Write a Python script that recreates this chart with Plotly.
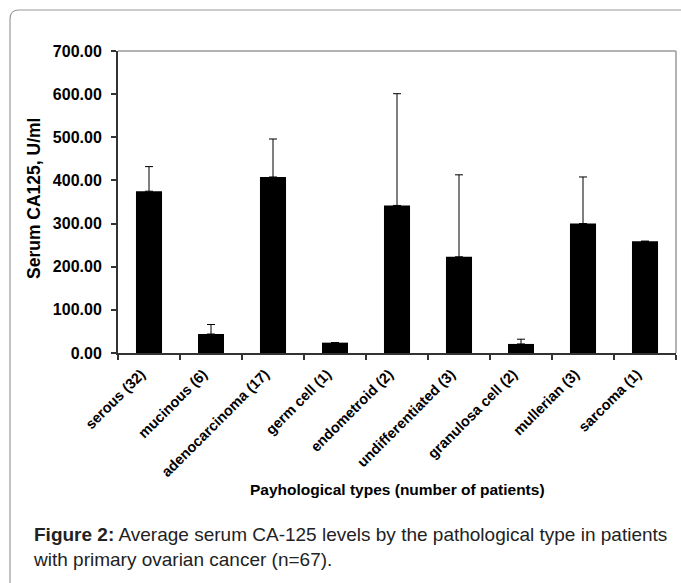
import plotly.graph_objects as go

categories = ["serous (32)", "mucinous (6)", "adenocarcinoma (17)", "germ cell (1)",
              "endometroid (2)", "undifferentiated (3)", "granulosa cell (2)",
              "mullerian (3)", "sarcoma (1)"]
mean_ca125 = [375, 44, 408, 24, 342, 223, 21, 300, 259]
error_plus = [57, 22, 88, None, 259, 190, 11, 108, None]
y_ticks = [0, 100, 200, 300, 400, 500, 600, 700]

W, H = 681, 583
L, R, T, B = 118, 676, 51, 353

def px(x):
    return (x - L) / (R - L)

def py(y):
    return (B - y) / (B - T)

fig = go.Figure()
fig.add_trace(go.Bar(
    x=categories, y=mean_ca125,
    marker=dict(color="#000000", line=dict(width=0)),
    error_y=dict(type="data", symmetric=False, array=error_plus,
                 arrayminus=[0] * len(categories),
                 color="#000000", thickness=1, width=4),
    width=0.42,
))

font = "Liberation Sans, Arial, sans-serif"

shapes = [
    dict(type="line", xref="paper", yref="paper", x0=0, x1=1, y0=1, y1=1,
         line=dict(color="#999999", width=1.5)),
    dict(type="line", xref="paper", yref="paper", x0=1, x1=1, y0=0, y1=1,
         line=dict(color="#999999", width=1.5)),
]
r = 9
path = (f"M {px(10)},{py(H + 10)} L {px(10)},{py(10 + r)} "
        f"Q {px(10)},{py(10)} {px(10 + r)},{py(10)} L {px(W + 10)},{py(10)}")
shapes.append(dict(type="path", xref="paper", yref="paper", path=path,
                   line=dict(color="#9a9a9a", width=1.2)))

annotations = [
    dict(text="<b>Serum CA125, U/ml</b>", xref="paper", yref="paper",
         x=px(34), y=py(199), xanchor="center", yanchor="middle",
         textangle=-90, showarrow=False,
         font=dict(family=font, size=17.5, color="#000")),
    dict(text="<b>Payhological types (number of patients)</b>", xref="paper", yref="paper",
         x=px(397), y=py(500), showarrow=False,
         font=dict(family=font, size=15.5, color="#000")),
    dict(text="<b>Figure 2:</b> Average serum CA-125 levels by the pathological type in patients"
              "<br>with primary ovarian cancer (n=67).",
         xref="paper", yref="paper", x=px(31), y=py(547), xanchor="left", yanchor="middle",
         align="left", showarrow=False,
         font=dict(family=font, size=19, color="#222")),
]

fig.update_layout(
    width=W, height=H,
    margin=dict(l=L, r=W - R, t=T, b=H - B, pad=0),
    paper_bgcolor="white", plot_bgcolor="white",
    showlegend=False,
    bargap=0.58,
    xaxis=dict(
        type="category", tickson="boundaries", ticks="outside", ticklen=5,
        tickcolor="#333", tickwidth=1.5, tickangle=-45,
        ticklabelshift=-8, ticklabelstandoff=5,
        showline=True, linecolor="#333", linewidth=2, showgrid=False,
        tickfont=dict(family=font, size=14.5, color="#000", weight="bold"),
    ),
    yaxis=dict(
        range=[0, 700], tickvals=y_ticks, tickformat=".2f",
        ticks="outside", ticklen=5, tickcolor="#333", tickwidth=1.5,
        ticklabelstandoff=6,
        showline=True, linecolor="#333", linewidth=2, showgrid=False, zeroline=False,
        tickfont=dict(family=font, size=16, color="#000", weight="bold"),
    ),
    shapes=shapes,
    annotations=annotations,
)

fig.write_html("out.html", config={"displayModeBar": False},
               post_script="document.body.style.margin='0';")
